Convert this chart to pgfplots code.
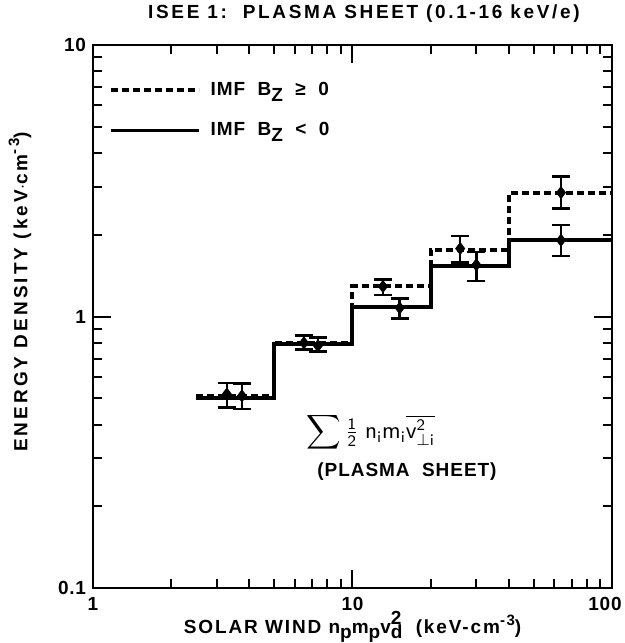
\documentclass[border=0pt]{standalone}
\usepackage{amsmath}
\usepackage{fontspec}
\setmainfont{Liberation Sans}
\newfontfamily\fX[LetterSpace=10]{Liberation Sans}
\newfontfamily\fT[LetterSpace=14]{Liberation Sans}
\newfontfamily\fY[LetterSpace=16]{Liberation Sans}
\newfontfamily\fL[LetterSpace=5]{Liberation Sans}
\newfontfamily\fK[LetterSpace=4]{Liberation Sans}
\usepackage{pgfplots}
\pgfplotsset{compat=1.18}
\newcommand{\lowZ}{\raisebox{-0.6ex}{Z}}
\begin{document}
\begin{tikzpicture}
\useasboundingbox (-46.5pt,-27.5pt) rectangle (266pt,294pt);
\begin{axis}[
  at={(0,0)}, anchor=south west,
  scale only axis, width=259.5pt, height=271.5pt,
  clip mode=individual,
  xmode=log, ymode=log,
  xmin=1, xmax=100, ymin=0.1, ymax=10,
  xtick={1,10,100}, xticklabels={1,10,{\kern-7pt100}},
  ytick={0.1,1,10}, yticklabels={0.1,1,10},
  minor xtick={2,3,4,5,6,7,8,9,20,30,40,50,60,70,80,90},
  minor ytick={0.2,0.3,0.4,0.5,0.6,0.7,0.8,0.9,2,3,4,5,6,7,8,9},
  tick align=inside, major tick length=9pt, minor tick length=4.5pt,
  axis line style={line width=1.3pt},
  every tick/.style={line width=1pt, black},
  tick label style={font=\fK\bfseries\fontsize{9.5}{10}\selectfont},
  xticklabel style={yshift=-1pt},
  xlabel={SOLAR WIND n\raisebox{-0.5ex}{p}m\raisebox{-0.5ex}{p}v\rlap{\raisebox{-0.5ex}{d}}\raisebox{0.9ex}{2}\ \ (keV-cm\raisebox{0.8ex}{\fontsize{7.5}{8}\selectfont -3})},
  xlabel style={font=\fX\bfseries\fontsize{9.5}{10}\selectfont, at={(axis description cs:0.5,-0.071)}, anchor=center},
  ylabel={ENERGY DENSITY (keV$\cdot$cm\raisebox{0.8ex}{\fontsize{7.5}{8}\selectfont -3})},
  ylabel style={font=\fY\bfseries\fontsize{9.5}{10}\selectfont, at={(axis description cs:-0.1407,0.545)}, anchor=center, rotate=0},
  legend style={draw=none, fill=none, at={(axis description cs:0.03,0.94)}, anchor=north west,
    font=\fL\bfseries\fontsize{9.5}{10}\selectfont, row sep=8pt, inner sep=0pt,
    nodes={inner xsep=5pt}},
  legend cell align=left,
  legend image code/.code={\draw[#1] (0pt,0pt) -- (44pt,0pt);},
]
\addlegendimage{black, line width=1.8pt, dash pattern=on 3.5pt off 2pt}
\addlegendentry{IMF\ \ B\lowZ\ \ ≥\ \ 0}
\addlegendimage{black, line width=1.8pt}
\addlegendentry{IMF\ \ B\lowZ\ \ <\ \ 0}

% solid steps (IMF Bz < 0)
\addplot[black, line width=2pt, const plot, forget plot] coordinates {
  (2.5,0.50) (5,0.79) (10,1.08) (20,1.54) (40,1.91) (100,1.91)};
% dashed steps (IMF Bz >= 0)
\addplot[black, line width=2pt, const plot, dash pattern=on 3.5pt off 2pt, forget plot] coordinates {
  (2.5,0.51) (5,0.80) (10,1.29) (20,1.76) (40,2.84) (100,2.84)};

% error points, Bz >= 0
\addplot[black, only marks, mark=diamond*, mark size=3pt, forget plot,
  error bars/.cd, y dir=both, y explicit,
  error bar style={line width=1.2pt}, error mark options={line width=1.2pt, mark size=4.5pt, rotate=90}]
coordinates {
  (3.28,0.518) += (0,0.052) -= (0,0.055)
  (6.5,0.80) += (0,0.052) -= (0,0.045)
  (13.1,1.29) += (0,0.08) -= (0,0.09)
  (26.0,1.78) += (0,0.20) -= (0,0.20)
  (63.6,2.86) += (0,0.42) -= (0,0.36)
};
% error points, Bz < 0
\addplot[black, only marks, mark=diamond*, mark size=3pt, forget plot,
  error bars/.cd, y dir=both, y explicit,
  error bar style={line width=1.2pt}, error mark options={line width=1.2pt, mark size=4.5pt, rotate=90}]
coordinates {
  (3.75,0.51) += (0,0.056) -= (0,0.054)
  (7.36,0.78) += (0,0.058) -= (0,0.037)
  (15.2,1.075) += (0,0.09) -= (0,0.091)
  (30.0,1.55) += (0,0.18) -= (0,0.20)
  (63.6,1.91) += (0,0.26) -= (0,0.24)
};

\node[font=\fontsize{12}{14}\selectfont] at (axis description cs:0.535,0.286)
  {$\displaystyle\sum\tfrac{\mathsf{1}}{\mathsf{2}}\;\mathsf{n}_{\mathsf{i}}\mathsf{m}_{\mathsf{i}}\overline{\mathsf{v}^{\mathsf{2}}_{\perp\mathsf{i}}}$};
\node[font=\fL\bfseries\fontsize{9.5}{10}\selectfont] at (axis description cs:0.605,0.214) {(PLASMA\ \ SHEET)};
\node[font=\fT\bfseries\fontsize{9.5}{10}\selectfont] at (axis description cs:0.522,1.057) {ISEE 1:\ \ PLASMA SHEET (0.1-16 keV/e)};
\end{axis}
\end{tikzpicture}
\end{document}
